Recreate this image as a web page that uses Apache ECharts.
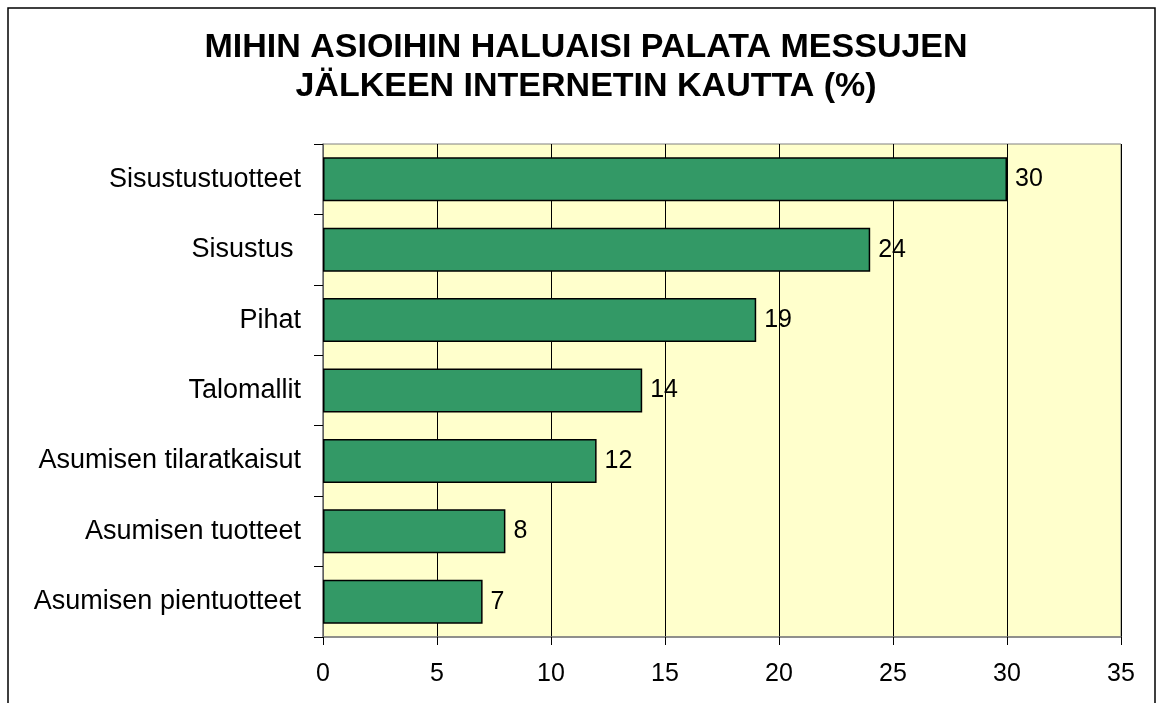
<!DOCTYPE html>
<html>
<head>
<meta charset="utf-8">
<script src="https://cdn.jsdelivr.net/npm/echarts@6/dist/echarts.min.js"></script>
<style>
  html, body { margin: 0; padding: 0; background: #ffffff; }
  #chart { width: 1162px; height: 703px; }
</style>
</head>
<body>
<div id="chart"></div>
<script>
// Survey answers: topics people would like to revisit online after the fair (%)
const categories = [
  'Sisustustuotteet',
  'Sisustus ',
  'Pihat',
  'Talomallit',
  'Asumisen tilaratkaisut',
  'Asumisen tuotteet',
  'Asumisen pientuotteet'
];
const values = [30, 24, 19, 14, 12, 8, 7];
const titleLines = ['MIHIN ASIOIHIN HALUAISI PALATA MESSUJEN', 'JÄLKEEN INTERNETIN KAUTTA (%)'];

const font = '"Liberation Sans", Arial, sans-serif';
const chart = echarts.init(document.getElementById('chart'), null, { renderer: 'canvas' });

chart.setOption({
  animation: false,
  backgroundColor: '#ffffff',
  title: {
    text: titleLines.join('\n'),
    left: 581,
    textAlign: 'center',
    top: 23,
    textStyle: {
      fontFamily: font,
      fontSize: 34,
      fontWeight: 'bold',
      color: '#000000',
      lineHeight: 39
    }
  },
  graphic: [{
    type: 'rect',
    shape: { x: 8, y: 8, width: 1147, height: 720 },
    style: { fill: 'none', stroke: '#000000', lineWidth: 1.5 },
    silent: true
  }],
  grid: {
    left: 323,
    top: 144,
    width: 798,
    height: 493,
    show: true,
    backgroundColor: '#FFFFCC',
    borderColor: '#808080',
    borderWidth: 1,
    containLabel: false
  },
  xAxis: {
    type: 'value',
    min: 0,
    max: 35,
    interval: 5,
    axisLine: { show: true, lineStyle: { color: '#808080', width: 1.5 } },
    axisTick: { show: true, length: 8, lineStyle: { color: '#000000' } },
    axisLabel: { fontFamily: font, fontSize: 25, color: '#000000', margin: 25 },
    splitLine: { show: true, lineStyle: { color: '#000000', width: 1 } }
  },
  yAxis: {
    type: 'category',
    inverse: true,
    data: categories,
    axisLine: { show: true, lineStyle: { color: '#808080', width: 1.5 } },
    axisTick: { show: true, length: 9, alignWithLabel: false, lineStyle: { color: '#000000' } },
    axisLabel: { fontFamily: font, fontSize: 27, color: '#000000', margin: 22 },
    splitLine: { show: false }
  },
  series: [{
    type: 'bar',
    data: values,
    barCategoryGap: '37.5%',
    itemStyle: { color: '#339966', borderColor: '#000000', borderWidth: 1.5 },
    label: {
      show: true,
      position: 'right',
      distance: 8,
      fontFamily: font,
      fontSize: 25,
      color: '#000000'
    }
  }]
});
</script>
</body>
</html>
